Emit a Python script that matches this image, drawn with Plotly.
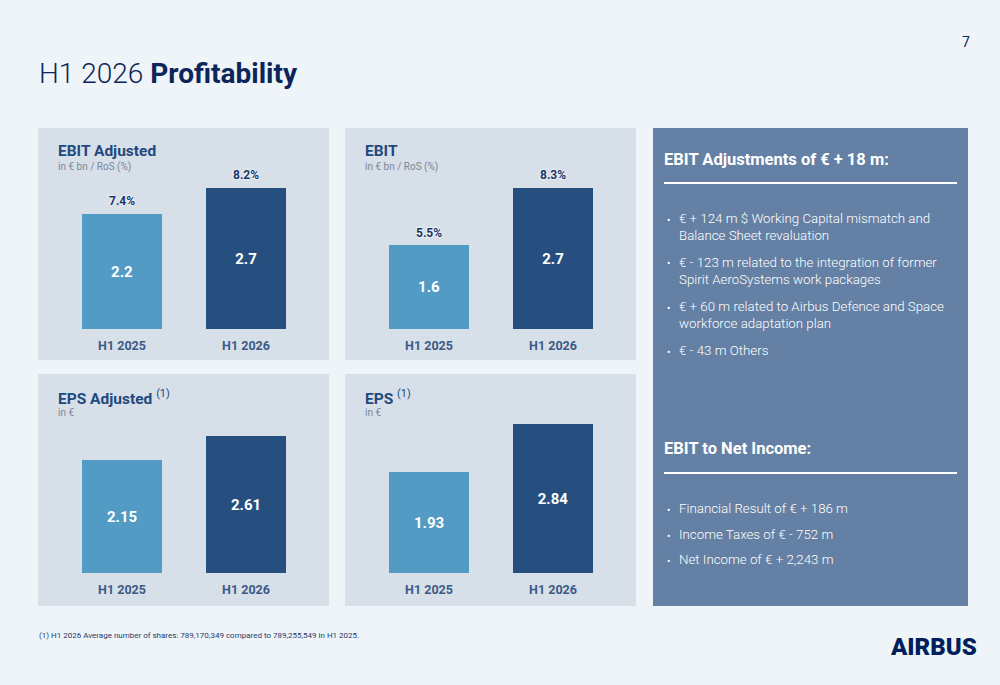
import plotly.graph_objects as go

# ---------------- data ----------------
categories = ["H1 2025", "H1 2026"]
ebit_adj_values = [2.2, 2.7]
ebit_adj_ros = ["7.4%", "8.2%"]
ebit_values = [1.6, 2.7]
ebit_ros = ["5.5%", "8.3%"]
eps_adj_values = [2.15, 2.61]
eps_values = [1.93, 2.84]

panel_titles = ["EBIT Adjusted", "EBIT",
                "EPS Adjusted <sup><span style='font-weight:400'>(1)</span></sup>",
                "EPS <sup><span style='font-weight:400'>(1)</span></sup>"]
panel_subtitles = ["in € bn / RoS (%)", "in € bn / RoS (%)", "in €", "in €"]

adj_heading = "EBIT Adjustments of € + 18 m:"
adj_bullets = [
    "€ + 124 m $ Working Capital mismatch and<br>Balance Sheet revaluation",
    "€ - 123 m related to the integration of former<br>Spirit AeroSystems work packages",
    "€ + 60 m related to Airbus Defence and Space<br>workforce adaptation plan",
    "€ - 43 m Others",
]
ni_heading = "EBIT to Net Income:"
ni_bullets = [
    "Financial Result of € + 186 m",
    "Income Taxes of € - 752 m",
    "Net Income of € + 2,243 m",
]
footnote = "(1) H1 2026 Average number of shares: 789,170,349 compared to 789,255,549 in H1 2025."

# ---------------- styling ----------------
W, H = 1000, 685
BG = "#eff4f9"
PANEL = "#d7dfe8"
RIGHT = "#6480a4"
C1 = "#519bc5"
C2 = "#264f80"
NAVY = "#0c2659"
TITLE_BLUE = "#22497e"
FONT = "Roboto"

def px_x(x):
    return x / W

def px_y(y):
    return 1 - y / H

fig = go.Figure()

series = [
    (ebit_adj_values, ebit_adj_ros),
    (ebit_values, ebit_ros),
    (eps_adj_values, None),
    (eps_values, None),
]

x_doms = [(60, 308), (367, 615), (60, 308), (367, 615)]
y_doms = [(172.3, 329.3), (172.3, 329.3), (416.3, 573.3), (416.3, 573.3)]
panels = [(38, 128, 329, 360), (345, 128, 636, 360), (38, 374, 329, 606), (345, 374, 636, 606)]

shapes = []
annotations = []

for i, ((vals, ros), xd, yd, pnl) in enumerate(zip(series, x_doms, y_doms, panels)):
    n = i + 1
    xa = "x" if n == 1 else f"x{n}"
    ya = "y" if n == 1 else f"y{n}"
    fig.add_trace(go.Bar(
        x=categories, y=vals,
        xaxis=xa, yaxis=ya,
        marker=dict(color=[C1, C2], line=dict(width=0)),
        width=0.645,
        text=[f"{v}" for v in vals],
        textposition="inside",
        insidetextanchor="middle",
        textangle=0,
        textfont=dict(family=FONT, size=15, color="white", weight="bold"),
        hoverinfo="skip",
        showlegend=False,
    ))
    if ros is not None:
        for c, v, t in zip(categories, vals, ros):
            annotations.append(dict(
                x=c, y=v, xref=xa, yref=ya, text=t, showarrow=False,
                yanchor="bottom", yshift=4,
                font=dict(family=FONT, size=12, color="#16336a", weight="bold",
                          shadow="0px 0px 2px #ffffff, 0px 0px 3px #ffffff"),
            ))
    xkey = "xaxis" if n == 1 else f"xaxis{n}"
    ykey = "yaxis" if n == 1 else f"yaxis{n}"
    fig.update_layout({
        xkey: dict(domain=[px_x(xd[0]), px_x(xd[1])], anchor=ya, range=[-0.5, 1.5],
                   showgrid=False, zeroline=False, showline=False, ticks="",
                   ticklabelstandoff=7,
                   tickfont=dict(family=FONT, size=12.5, color="#3b5a86", weight="bold"),
                   fixedrange=True),
        ykey: dict(domain=[px_y(yd[1]), px_y(yd[0])], anchor=xa, range=[0, 3.0],
                   visible=False, fixedrange=True),
    })
    x0, y0, x1, y1 = pnl
    shapes.append(dict(type="rect", xref="paper", yref="paper", layer="below",
                       x0=px_x(x0), x1=px_x(x1), y0=px_y(y1), y1=px_y(y0),
                       fillcolor=PANEL, line=dict(width=0)))
    annotations.append(dict(x=px_x(x0 + 18), y=px_y(y0 + 23), xref="paper", yref="paper",
                            text=panel_titles[i], showarrow=False, xanchor="left", yanchor="middle",
                            font=dict(family=FONT, size=15.5, color=TITLE_BLUE, weight="bold")))
    annotations.append(dict(x=px_x(x0 + 18), y=px_y(y0 + 39), xref="paper", yref="paper",
                            text=panel_subtitles[i], showarrow=False, xanchor="left", yanchor="middle",
                            font=dict(family=FONT, size=10, color="#7b8799")))

# right panel
shapes.append(dict(type="rect", xref="paper", yref="paper", layer="below",
                   x0=px_x(653), x1=px_x(968), y0=px_y(606), y1=px_y(128),
                   fillcolor=RIGHT, line=dict(width=0)))
for yl in (183, 473):
    shapes.append(dict(type="line", xref="paper", yref="paper",
                       x0=px_x(664), x1=px_x(957), y0=px_y(yl), y1=px_y(yl),
                       line=dict(color="white", width=2)))

annotations.append(dict(x=px_x(662), y=px_y(159), xref="paper", yref="paper", text=adj_heading,
                        showarrow=False, xanchor="left", yanchor="middle",
                        font=dict(family=FONT, size=16.5, color="white", weight="bold")))
annotations.append(dict(x=px_x(662), y=px_y(448), xref="paper", yref="paper", text=ni_heading,
                        showarrow=False, xanchor="left", yanchor="middle",
                        font=dict(family=FONT, size=16.5, color="white", weight="bold")))

adj_first_line_y = [218, 262, 306, 350]
ni_first_line_y = [508, 534, 559]
LINE_H = 18

def add_bullets(items, ys):
    for b, yc in zip(items, ys):
        annotations.append(dict(x=px_x(665), y=px_y(yc + 2), xref="paper", yref="paper", text="•",
                                showarrow=False, xanchor="left", yanchor="middle",
                                font=dict(family=FONT, size=10, color="white")))
        annotations.append(dict(x=px_x(677), y=px_y(yc - LINE_H / 2), xref="paper", yref="paper",
                                text=b, showarrow=False, xanchor="left", yanchor="top", align="left",
                                font=dict(family=FONT, size=13.3, color="white", weight=300)))

add_bullets(adj_bullets, adj_first_line_y)
add_bullets(ni_bullets, ni_first_line_y)

# page title, number, footnote, logo
annotations.append(dict(x=px_x(37), y=px_y(73), xref="paper", yref="paper",
                        text="<span style='font-weight:300'>H1 2026</span> <b>Profitability</b>",
                        showarrow=False, xanchor="left", yanchor="middle",
                        font=dict(family=FONT, size=28, color=NAVY)))
annotations.append(dict(x=px_x(966), y=px_y(42), xref="paper", yref="paper", text="7",
                        showarrow=False, xanchor="center", yanchor="middle",
                        font=dict(family=FONT, size=14, color=NAVY)))
annotations.append(dict(x=px_x(37), y=px_y(635), xref="paper", yref="paper", text=footnote,
                        showarrow=False, xanchor="left", yanchor="middle",
                        font=dict(family=FONT, size=8, color="#1e3a6c")))
annotations.append(dict(x=px_x(979), y=px_y(647), xref="paper", yref="paper", text="AIRBUS",
                        showarrow=False, xanchor="right", yanchor="middle",
                        font=dict(family=FONT, size=24, color="#00205b", weight=900)))

fig.update_layout(
    width=W, height=H,
    margin=dict(l=0, r=0, t=0, b=0),
    paper_bgcolor=BG, plot_bgcolor="rgba(0,0,0,0)",
    shapes=shapes, annotations=annotations,
    showlegend=False, bargap=0,
    font=dict(family=FONT),
)

fig.write_html("out.html", config={"displayModeBar": False})
